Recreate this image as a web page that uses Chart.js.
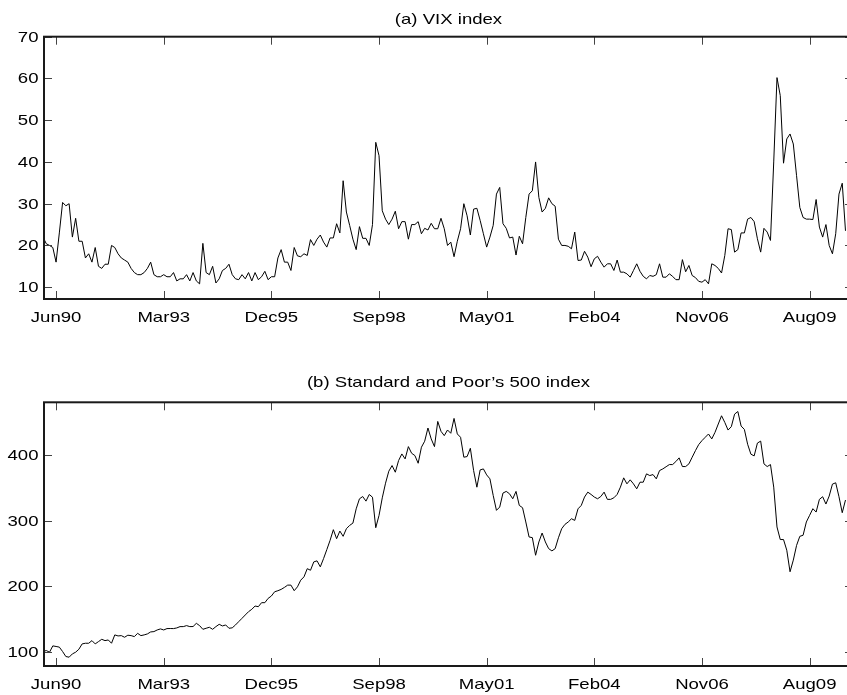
<!DOCTYPE html>
<html>
<head>
<meta charset="utf-8">
<script src="https://cdn.jsdelivr.net/npm/chart.js@4.4.1/dist/chart.umd.min.js"></script>
<style>
  html, body { margin: 0; padding: 0; background: #fff; overflow: hidden; }
  canvas { display: block; }
</style>
</head>
<body>
<canvas id="vix" width="856" height="330"></canvas>
<canvas id="spx" width="856" height="365"></canvas>
<script>
// monthly closes, Feb90 .. Jul10, one value per month
const tickIdx = [4, 37, 70, 103, 136, 169, 202, 235];
const tickLabels = ["Jun90", "Mar93", "Dec95", "Sep98", "May01", "Feb04", "Nov06", "Aug09"];
const vixTicks = [10, 20, 30, 40, 50, 60, 70];
const spxTicks = [100, 200, 300, 400];

const vix = [
  22, 20.4, 20, 19.5, 16, 23, 30.3, 29.5, 30, 22,
  26.5, 21, 21, 17, 18, 16, 19.5, 15, 14.5, 15.5,
  15.5, 20, 19.5, 18, 17, 16.5, 16, 14.5, 13.5, 13,
  13, 13.5, 14.5, 16, 13, 12.5, 12.5, 13, 12.5, 12.5,
  13.5, 11.5, 12, 12, 13, 11.5, 13.5, 11.5, 10.8, 20.5,
  13.5, 13, 15, 11, 12, 14, 14.5, 15.5, 13, 12,
  11.8, 13, 12, 13.5, 11.5, 13.5, 11.8, 12.5, 13.8, 11.8,
  12.5, 12.5, 17, 19, 16, 16, 14, 19.5, 17.5, 17.3,
  18, 17.6, 21.4, 20, 21.5, 22.5, 20.8, 19.6, 21.8, 21.8,
  25.2, 23, 35.5, 28, 24.8, 21.5, 19, 24.5, 21.7, 21.7,
  20, 25, 44.7, 41.5, 28.3, 26.3, 25, 26.3, 28.2, 24,
  25.7, 25.7, 21.5, 25, 25, 25.7, 22.8, 24.1, 23.7, 25.3,
  24, 24, 26.5, 24, 20, 20.8, 17.3, 21, 24, 30,
  27.1, 22.5, 28.7, 28.9, 26, 22.8, 19.6, 22, 24.8, 32.3,
  33.9, 25.2, 24.1, 21.8, 22, 17.7, 22.2, 20.4, 26.7, 32.3,
  33.1, 40, 31.5, 28, 28.9, 31.4, 30, 29.4, 21.5, 20,
  20, 19.8, 19.2, 23.2, 16.4, 16.5, 18.6, 17.2, 14.9, 16.8,
  17.4, 16, 14.8, 15.6, 15.6, 14, 16.5, 13.6, 13.6, 13.2,
  12.4, 14, 15.6, 13.8, 12.6, 12, 12.8, 12.6, 13, 15.6,
  12.4, 12.4, 13.2, 12.6, 11.8, 11.8, 16.6, 13.7, 15.2, 12.8,
  12.3, 11.4, 11.2, 11.8, 10.8, 15.6, 15.2, 14.5, 13.4, 17.6,
  24, 23.8, 18.4, 19, 23, 23, 26.3, 26.7, 25.7, 21.6,
  18.4, 24.1, 23.2, 21.2, 40, 60.2, 55.9, 39.7, 45.5, 46.7,
  44.3, 36.7, 29.1, 26.7, 26.3, 26.3, 26.2, 31, 24.4, 22,
  25, 20, 18, 22.8, 32.3, 34.9, 23.5
];

const spx = [
  101, 102.5, 100, 109.6, 108.7, 107.7, 101, 93.4, 92.4, 97.4,
  100, 104.5, 112.6, 113.6, 113.6, 117.6, 112.6, 116.1, 119.6, 117.6,
  118.6, 113.6, 126.3, 124.7, 125.2, 122.7, 125.8, 125.2, 123.7, 128.7,
  125.2, 126.3, 127.8, 130.8, 131.3, 133.8, 135.4, 133.8, 135.9, 136,
  135.9, 136.9, 138.9, 138.9, 140.4, 138.9, 139, 143.9, 140.4, 134.8,
  136.4, 137.9, 134.8, 138.9, 142.4, 139.9, 141.4, 136.4, 137, 141.4,
  146.5, 151.5, 156.6, 161.6, 165.2, 170.2, 169.2, 175.3, 175.3, 181.8,
  185.4, 191.9, 193.5, 195.5, 198.5, 202, 202, 193.5, 199.4, 209.5,
  214.6, 227, 224.6, 237.3, 238.9, 229.8, 242.3, 256, 270.1, 286.3,
  272.6, 284.2, 276.2, 287.8, 292.8, 296.3, 318, 333.2, 336.7, 329.7,
  339.8, 335.7, 289.3, 308, 334.7, 357, 375.2, 383.8, 373.7, 391.4,
  401.5, 393.9, 412.6, 402.5, 399, 387.3, 411.7, 420.8, 440.9, 424.3,
  412.6, 450.9, 435.9, 429.3, 437.9, 432.9, 455.5, 431.9, 426.8, 396.5,
  397.5, 410.1, 376.2, 350.9, 377.2, 378.7, 369.6, 363.6, 338.4, 315.7,
  320.7, 342, 344.5, 340.9, 333.3, 344.5, 323.2, 319.7, 298, 275.2,
  274.2, 247.4, 267.6, 281.2, 267.6, 257.5, 254, 257.5, 274, 287.8,
  294.4, 298, 302.9, 300.4, 318, 323.2, 335.9, 343.4, 339.9, 335.9,
  333.3, 336.8, 343.4, 332.4, 332.4, 334.8, 339.9, 351, 365.1, 356,
  362.1, 356, 348.4, 358.5, 358.5, 371.2, 368.6, 370.1, 363.6, 376.2,
  378.7, 382, 385.3, 385.3, 389.9, 395.5, 382.3, 382.3, 386.4, 396.5,
  406.5, 415.7, 421.7, 426.8, 431.8, 424.3, 434.3, 447, 459.5, 449.4,
  437.8, 442.9, 462, 466, 443.9, 438.8, 416.2, 401.1, 398.5, 418,
  421, 386.4, 382.3, 385.3, 351, 290.4, 271.3, 271.3, 255.1, 222.3,
  240, 262.4, 276.2, 277.8, 298, 308.1, 318.2, 313.1, 332.4, 336.4,
  325.3, 337.4, 355.6, 357.6, 336.4, 312.1, 331.4
];

// the figure's lettering is stretched sideways, so text gets drawn by hand
const SX = 1.29;
const FONT = '14.4px "Liberation Sans", Arial, sans-serif';

function wideText(ctx, txt, x, y, align) {
  ctx.save();
  ctx.translate(x, y);
  ctx.scale(SX, 1);
  ctx.textAlign = align;
  ctx.textBaseline = 'alphabetic';
  ctx.fillText(txt, 0, 0);
  ctx.restore();
}

// matlab style box: inward ticks on all four sides + labels + title
const frame = {
  id: 'frame',
  afterDraw(chart, args, o) {
    const ctx = chart.ctx;
    const a = chart.chartArea;
    const x = chart.scales.x;
    const y = chart.scales.y;
    ctx.save();
    ctx.strokeStyle = '#444';
    ctx.lineWidth = 1;
    ctx.beginPath();
    x.ticks.forEach(t => {
      const px = Math.round(x.getPixelForValue(t.value)) + 0.5;
      ctx.moveTo(px, a.top); ctx.lineTo(px, a.top + 8);
      ctx.moveTo(px, a.bottom); ctx.lineTo(px, a.bottom - 8);
    });
    y.ticks.forEach(t => {
      const py = Math.round(y.getPixelForValue(t.value)) + 0.5;
      ctx.moveTo(a.left, py); ctx.lineTo(a.left + 8, py);
      ctx.moveTo(a.right, py); ctx.lineTo(a.right - 8, py);
    });
    ctx.stroke();
    ctx.strokeStyle = '#1a1a1a';
    ctx.lineWidth = 2;
    ctx.strokeRect(a.left, a.top, a.right - a.left, a.bottom - a.top);

    ctx.fillStyle = '#000';
    ctx.font = FONT;
    x.ticks.forEach(t => wideText(ctx, t.label, x.getPixelForValue(t.value), a.bottom + 22.5, 'center'));
    y.ticks.forEach(t => wideText(ctx, t.label, a.left - 5.5, y.getPixelForValue(t.value) + 5, 'right'));
    wideText(ctx, o.title, (a.left + a.right) / 2, o.titleY, 'center');
    ctx.restore();
  }
};

function makeChart(id, values, yTicks, ymin, ymax, pad, title, titleY) {
  return new Chart(document.getElementById(id), {
    type: 'line',
    data: {
      datasets: [{
        data: values.map((v, i) => ({ x: i, y: v })),
        borderColor: '#000',
        borderWidth: 1,
        pointRadius: 0,
        tension: 0,
        fill: false
      }]
    },
    options: {
      responsive: false,
      animation: false,
      devicePixelRatio: 1,
      layout: { padding: pad },
      plugins: {
        legend: { display: false },
        tooltip: { enabled: false },
        frame: { title: title, titleY: titleY }
      },
      scales: {
        x: {
          type: 'linear',
          min: 0.3,
          max: 248.3,
          grid: { display: false },
          border: { display: false },
          ticks: { display: false, callback: v => tickLabels[tickIdx.indexOf(v)] },
          afterBuildTicks: s => { s.ticks = tickIdx.map(v => ({ value: v })); },
          afterFit: s => { s.height = 0; }
        },
        y: {
          min: ymin,
          max: ymax,
          grid: { display: false },
          border: { display: false },
          ticks: { display: false, callback: v => String(v) },
          afterBuildTicks: s => { s.ticks = yTicks.map(v => ({ value: v })); },
          afterFit: s => { s.width = 44; }
        }
      }
    },
    plugins: [frame]
  });
}

window.onload = function () {
  makeChart('vix', vix, vixTicks, 7.17, 70,
    { left: 0, right: 3, top: 36.7, bottom: 31 }, '(a) VIX index', 23.5);
  makeChart('spx', spx, spxTicks, 79, 480,
    { left: 0, right: 3, top: 72.3, bottom: 29 }, "(b) Standard and Poor\u2019s 500 index", 56.5);
};
</script>
</body>
</html>
